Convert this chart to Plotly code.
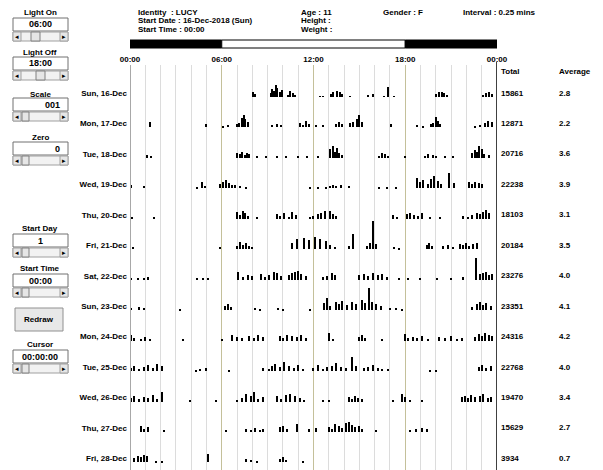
import plotly.graph_objects as go

# ---------------- data ----------------
days = ["Sun, 16-Dec", "Mon, 17-Dec", "Tue, 18-Dec", "Wed, 19-Dec", "Thu, 20-Dec",
        "Fri, 21-Dec", "Sat, 22-Dec", "Sun, 23-Dec", "Mon, 24-Dec", "Tue, 25-Dec",
        "Wed, 26-Dec", "Thu, 27-Dec", "Fri, 28-Dec"]
totals = [15861, 12871, 20716, 22238, 18103, 20184, 23276, 23351, 24316, 22768, 19470, 15629, 3934]
averages = [2.8, 2.2, 3.6, 3.9, 3.1, 3.5, 4.0, 4.1, 4.2, 4.0, 3.4, 2.7, 0.7]

hour_ticks = [0, 6, 12, 18, 24]
hour_labels = ["00:00", "06:00", "12:00", "18:00", "00:00"]
light_on = 6
light_off = 18

sun16_hr = [8.05, 8.2, 9.2, 9.3, 9.45, 9.55, 9.65, 9.8, 9.95, 10.35, 10.5, 10.65, 10.8, 12.4, 12.6, 13.15, 13.3, 13.55, 13.75, 13.9, 14.4, 15.6, 15.9, 16.6, 16.9, 17.3, 20.05, 20.2, 20.4, 20.55, 20.75, 23.1, 23.3, 23.5, 23.65]
sun16_act = [5, 3, 4, 8, 6, 12, 9, 5, 7, 2, 6, 4, 2, 1, 1, 3, 5, 6, 5, 3, 1, 2, 3, 1, 10, 1, 3, 5, 5, 4, 2, 2, 4, 5, 3]

mon17_hr = [1.3, 5.0, 6.1, 6.4, 7.0, 7.15, 7.3, 7.45, 7.55, 7.7, 9.3, 9.6, 9.9, 11.1, 11.3, 11.5, 11.7, 12.2, 12.6, 13.5, 13.7, 13.9, 14.4, 14.6, 14.85, 15.0, 15.15, 17.1, 18.8, 19.2, 19.7, 19.85, 20.0, 20.15, 20.3, 22.6, 22.9, 23.25, 23.45, 23.65]
mon17_act = [5, 3, 1, 2, 3, 4, 9, 12, 8, 5, 2, 3, 2, 4, 2, 6, 3, 2, 2, 3, 5, 3, 4, 5, 8, 12, 5, 3, 2, 1, 3, 4, 10, 6, 3, 1, 2, 4, 6, 5]

tue18_hr = [1.1, 1.4, 7.0, 7.2, 7.35, 7.5, 7.65, 7.8, 8.3, 8.9, 9.6, 10.2, 11.0, 11.6, 12.3, 13.1, 13.25, 13.4, 13.55, 13.7, 13.85, 16.3, 16.5, 16.7, 16.9, 18.0, 19.3, 19.5, 19.8, 20.0, 20.6, 21.1, 22.4, 22.55, 22.7, 22.85, 23.0, 23.15, 23.5]
tue18_act = [3, 2, 5, 4, 6, 3, 5, 4, 1, 1, 1, 1, 1, 1, 1, 9, 12, 6, 10, 5, 3, 2, 5, 4, 2, 1, 2, 4, 3, 2, 1, 2, 5, 8, 6, 12, 9, 4, 3]

wed19_hr = [0.1, 0.9, 4.4, 4.7, 4.9, 5.9, 6.1, 6.3, 6.5, 6.7, 6.9, 7.2, 7.6, 11.8, 12.3, 12.8, 13.1, 13.3, 13.5, 13.8, 14.3, 16.3, 16.8, 17.4, 18.8, 19.0, 19.2, 19.5, 19.7, 19.9, 20.15, 20.35, 20.9, 21.2, 22.2, 22.4, 22.6, 22.8, 23.0]
wed19_act = [3, 2, 1, 6, 2, 4, 6, 8, 5, 3, 3, 2, 1, 1, 1, 1, 2, 3, 2, 3, 2, 1, 1, 1, 10, 6, 8, 4, 9, 12, 7, 4, 15, 5, 6, 4, 6, 5, 4]

thu20_hr = [0.15, 1.6, 7.0, 7.2, 7.4, 7.55, 7.7, 8.3, 9.6, 9.8, 10.1, 10.4, 10.6, 10.85, 11.8, 12.0, 12.3, 12.5, 12.75, 13.1, 13.3, 13.5, 17.2, 17.5, 18.1, 18.35, 18.6, 18.85, 19.1, 19.6, 20.3, 21.8, 22.1, 22.4, 22.7, 22.9, 23.1, 23.3, 23.5]
thu20_act = [2, 1, 7, 4, 8, 6, 3, 2, 5, 3, 6, 2, 7, 4, 2, 3, 5, 6, 8, 8, 5, 3, 4, 2, 5, 6, 4, 3, 6, 2, 2, 3, 2, 4, 6, 5, 7, 9, 6]

fri21_hr = [0.2, 5.9, 7.0, 7.2, 7.4, 7.6, 7.8, 8.0, 10.6, 10.9, 11.4, 11.7, 12.1, 12.4, 12.8, 13.1, 13.4, 14.3, 14.6, 15.5, 15.7, 15.9, 16.1, 17.3, 17.6, 19.4, 19.55, 19.75, 20.5, 20.8, 21.1, 21.6, 21.8, 22.0, 22.2, 22.45, 22.7]
fri21_act = [2, 2, 3, 7, 4, 6, 3, 2, 6, 10, 11, 9, 12, 10, 8, 4, 2, 3, 15, 3, 6, 28, 5, 2, 1, 4, 6, 3, 3, 4, 2, 5, 4, 6, 3, 5, 6]

sat22_hr = [0.1, 0.5, 0.9, 1.2, 4.4, 4.8, 5.1, 7.05, 7.4, 7.7, 8.0, 8.6, 8.85, 9.1, 9.4, 9.6, 9.9, 10.4, 10.6, 10.8, 11.0, 11.2, 11.5, 12.6, 12.9, 13.2, 13.4, 15.0, 15.3, 15.6, 15.9, 16.2, 16.5, 16.8, 17.6, 18.2, 19.0, 20.1, 21.0, 21.8, 22.65, 22.9, 23.1, 23.3, 23.5, 23.7]
sat22_act = [2, 1, 2, 3, 1, 1, 1, 8, 3, 5, 4, 6, 3, 5, 8, 7, 4, 5, 7, 8, 9, 6, 4, 3, 4, 7, 5, 5, 6, 4, 7, 5, 6, 3, 1, 1, 2, 1, 2, 3, 22, 6, 7, 8, 5, 6]

sun23_hr = [0.1, 0.6, 0.9, 3.3, 6.2, 6.4, 6.6, 8.2, 8.5, 9.7, 10.0, 11.8, 12.7, 12.9, 13.1, 13.5, 13.7, 13.9, 14.2, 14.5, 14.8, 15.2, 15.4, 15.65, 15.85, 16.1, 16.4, 17.0, 17.4, 17.8, 22.4, 22.7, 22.9, 23.1, 23.3, 23.6]
sun23_act = [2, 3, 2, 1, 4, 6, 3, 2, 1, 2, 1, 1, 7, 12, 4, 8, 6, 9, 5, 8, 6, 10, 7, 22, 8, 6, 4, 2, 2, 1, 3, 6, 8, 5, 7, 4]

mon24_hr = [0.1, 0.3, 0.7, 1.0, 1.3, 3.5, 6.0, 6.7, 7.0, 7.3, 7.8, 8.1, 8.4, 8.7, 9.8, 10.0, 10.3, 10.6, 10.9, 11.2, 11.5, 13.0, 13.3, 15.0, 15.2, 15.4, 16.5, 18.0, 18.2, 18.5, 18.8, 19.1, 19.5, 20.2, 20.6, 21.0, 21.4, 21.7, 22.6, 22.8, 23.0, 23.2, 23.5, 23.7]
mon24_act = [6, 3, 2, 4, 2, 1, 1, 6, 4, 3, 5, 3, 6, 4, 5, 3, 6, 5, 4, 6, 3, 8, 2, 4, 6, 3, 2, 7, 3, 4, 3, 5, 2, 4, 3, 5, 2, 3, 4, 7, 5, 8, 6, 5]

tue25_hr = [0.1, 0.3, 0.6, 0.9, 1.2, 1.5, 1.8, 2.1, 4.3, 4.6, 5.0, 6.5, 8.7, 9.1, 9.3, 9.5, 9.8, 10.1, 10.4, 10.7, 11.0, 11.3, 12.0, 12.3, 12.6, 12.9, 13.2, 13.5, 13.8, 14.1, 14.5, 14.8, 15.3, 15.6, 15.9, 16.2, 16.5, 16.9, 19.6, 20.0, 22.8, 23.0, 23.3, 23.6]
tue25_act = [3, 5, 2, 4, 6, 3, 7, 5, 1, 2, 3, 1, 3, 2, 5, 7, 4, 9, 5, 3, 6, 2, 3, 6, 2, 4, 5, 8, 4, 3, 14, 5, 3, 4, 6, 3, 2, 2, 1, 1, 4, 6, 3, 5]

wed26_hr = [0.1, 0.3, 0.6, 0.9, 1.2, 1.5, 1.8, 2.1, 3.9, 5.6, 7.0, 7.3, 7.6, 7.9, 8.1, 8.4, 8.7, 9.6, 9.9, 10.2, 10.5, 10.8, 11.1, 11.4, 12.6, 13.0, 14.3, 14.5, 14.7, 14.9, 15.2, 17.2, 17.8, 18.0, 18.3, 19.1, 21.7, 21.9, 22.1, 22.3, 22.6, 22.9, 23.1, 23.4, 23.6]
wed26_act = [4, 6, 3, 5, 4, 7, 3, 10, 1, 2, 2, 4, 8, 6, 10, 3, 5, 6, 3, 7, 8, 6, 4, 2, 2, 2, 5, 3, 6, 4, 3, 2, 8, 5, 2, 1, 5, 6, 4, 7, 5, 6, 8, 4, 5]

thu27_hr = [0.7, 0.9, 1.2, 2.2, 6.3, 7.6, 7.9, 8.2, 8.5, 8.7, 9.8, 10.0, 10.3, 10.9, 11.7, 12.2, 13.0, 13.2, 13.4, 13.7, 13.9, 14.1, 14.3, 14.5, 14.7, 15.0, 15.2, 16.1, 18.3, 18.7, 19.1, 19.4]
thu27_act = [6, 3, 5, 2, 1, 3, 2, 4, 2, 3, 5, 6, 3, 8, 3, 4, 5, 3, 8, 6, 4, 9, 10, 7, 5, 6, 3, 2, 2, 3, 4, 3]

fri28_hr = [0.3, 0.5, 0.7, 0.9, 1.1, 1.7, 2.1, 5.1, 7.6, 7.9, 8.3, 9.8, 10.0, 10.2, 11.3]
fri28_act = [4, 6, 5, 7, 6, 1, 1, 8, 3, 2, 1, 3, 5, 2, 1]

day_hours = [sun16_hr, mon17_hr, tue18_hr, wed19_hr, thu20_hr, fri21_hr, sat22_hr,
             sun23_hr, mon24_hr, tue25_hr, wed26_hr, thu27_hr, fri28_hr]
day_acts = [sun16_act, mon17_act, tue18_act, wed19_act, thu20_act, fri21_act, sat22_act,
            sun23_act, mon24_act, tue25_act, wed26_act, thu27_act, fri28_act]

# ---------------- layout geometry (screen pixels) ----------------
SCREEN_W, SCREEN_H = 603, 470
PAGE_OFF = 8                       # default body margin of the html page
PLOT_L, PLOT_R, PLOT_T, PLOT_B = 130, 497, 65, 470
PW, PH = PLOT_R - PLOT_L, PLOT_B - PLOT_T
ROW = 30.45
FONT = "Liberation Sans, Arial, sans-serif"
FS = 8


def fx(p):
    return (p - PLOT_L) / PW


def fy(p):
    return (PLOT_B - p) / PH


def base_of(i):
    return -(97 + ROW * i - PLOT_T)


def label_of(i):
    return -(93 + ROW * i - PLOT_T)


fig = go.Figure()
for i, (hrs, act) in enumerate(zip(day_hours, day_acts)):
    fig.add_trace(go.Bar(
        x=hrs, y=act, base=[base_of(i)] * len(hrs), width=0.08,
        marker=dict(color="black", line=dict(width=0)),
        showlegend=False, hoverinfo="skip"))

shapes = []
annots = []


def text(x, y, s, anchor="left", size=FS, color="black", bold=True):
    annots.append(dict(x=fx(x), y=fy(y), xref="paper", yref="paper", text=s,
                       showarrow=False, xanchor=anchor, yanchor="middle", borderpad=0,
                       font=dict(family=FONT, size=size, color=color,
                                 weight="bold" if bold else "normal")))


def rect(x0, y0, x1, y1, fill, line="#808080", lw=1):
    shapes.append(dict(type="rect", xref="paper", yref="paper",
                       x0=fx(x0), x1=fx(x1), y0=fy(y1), y1=fy(y0),
                       fillcolor=fill, line=dict(color=line, width=lw), layer="above"))


def scrollbar(x0, x1, y0, y1, t0, t1):
    rect(x0, y0, x1, y1, "#f2f2f2", "#a0a0a0")
    rect(x0, y0, x0 + 8, y1, "#e6e6e6", "#a0a0a0")
    rect(x1 - 8, y0, x1, y1, "#e6e6e6", "#a0a0a0")
    rect(t0, y0, t1, y1, "#e6e6e6", "#808080")
    text(x0 + 4, (y0 + y1) / 2, "◂", "center", 7, bold=False)
    text(x1 - 4, (y0 + y1) / 2, "▸", "center", 7, bold=False)


def widget(label, ly, value, box_y0, sb_y0, thumb, value_anchor="center", vx=40):
    text(40, ly, label, "center")
    rect(13, box_y0, 68, box_y0 + 13, "white", "#707070")
    text(vx, box_y0 + 6.5, value, value_anchor, 9)
    scrollbar(13, 68, sb_y0, sb_y0 + 9, thumb[0], thumb[1])


widget("Light On", 12, "06:00", 18, 32, (31, 40))
widget("Light Off", 52, "18:00", 57, 71, (36, 45))
widget("Scale", 94, "001", 98, 112, (22, 29), "right", 61)
widget("Zero", 137, "0", 142, 156, (22, 29), "right", 61)
widget("Start Day", 228, "1", 234, 248, (22, 29))
widget("Start Time", 268, "00:00", 274, 288, (22, 29))
rect(15, 308, 63, 331, "#e8e8e8", "#909090")
text(39, 319.5, "Redraw", "center")
widget("Cursor", 344, "00:00:00", 350, 364, (22, 29))

# header info
text(137, 12, "Identity  : LUCY")
text(137, 20.5, "Start Date : 16-Dec-2018 (Sun)")
text(137, 29, "Start Time : 00:00")
text(300, 12, "Age : 11")
text(300, 20.5, "Height :")
text(300, 29, "Weight :")
text(382, 12, "Gender : F")
text(462, 12, "Interval : 0.25 mins")

# light / dark bar
bar_y0, bar_y1 = fy(48), fy(40)
shapes.append(dict(type="rect", xref="x", yref="paper", x0=0, x1=light_on, y0=bar_y0, y1=bar_y1,
                   fillcolor="black", line=dict(color="black", width=1)))
shapes.append(dict(type="rect", xref="x", yref="paper", x0=light_on, x1=light_off, y0=bar_y0, y1=bar_y1,
                   fillcolor="white", line=dict(color="black", width=1)))
shapes.append(dict(type="rect", xref="x", yref="paper", x0=light_off, x1=24, y0=bar_y0, y1=bar_y1,
                   fillcolor="black", line=dict(color="black", width=1)))

# plot edges
shapes.append(dict(type="line", xref="x", yref="paper", x0=0, x1=0, y0=0, y1=1,
                   line=dict(color="#a8a8a8", width=2)))
shapes.append(dict(type="line", xref="x", yref="paper", x0=24, x1=24, y0=0, y1=fy(62),
                   line=dict(color="black", width=1.5)))

# totals / averages
text(500, 72, "Total")
text(558, 72, "Average")
for i, (tot, avg) in enumerate(zip(totals, averages)):
    for xp, s in ((500, str(tot)), (558, f"{avg:.1f}")):
        annots.append(dict(x=fx(xp), y=label_of(i), xref="paper", yref="y", text=s,
                           showarrow=False, xanchor="left", yanchor="middle", borderpad=0,
                           font=dict(family=FONT, size=FS, color="black", weight="bold")))

fig.update_layout(
    width=SCREEN_W - PAGE_OFF, height=SCREEN_H - PAGE_OFF,
    margin=dict(l=PLOT_L - PAGE_OFF, r=SCREEN_W - PLOT_R, t=PLOT_T - PAGE_OFF,
                b=SCREEN_H - PLOT_B, pad=0),
    paper_bgcolor="white", plot_bgcolor="white",
    barmode="overlay", bargap=0,
    shapes=shapes, annotations=annots,
    font=dict(family=FONT, size=FS, color="black"),
    xaxis=dict(range=[0, 24], side="top", tickvals=hour_ticks, ticktext=hour_labels,
               showgrid=True, gridcolor="#c4c09a", gridwidth=1, zeroline=False,
               showline=False, ticks="", tickfont=dict(size=FS, color="black", weight="bold"),
               minor=dict(dtick=1, showgrid=True, gridcolor="#dcdcdc", gridwidth=1),
               fixedrange=True),
    yaxis=dict(range=[-PH, 0], tickvals=[label_of(i) for i in range(len(days))],
               ticktext=days, showgrid=False, zeroline=False, showline=False,
               ticks="", ticklabelstandoff=2,
               tickfont=dict(size=FS, color="black", weight="bold"),
               fixedrange=True),
)

fig.write_html("out.html")
